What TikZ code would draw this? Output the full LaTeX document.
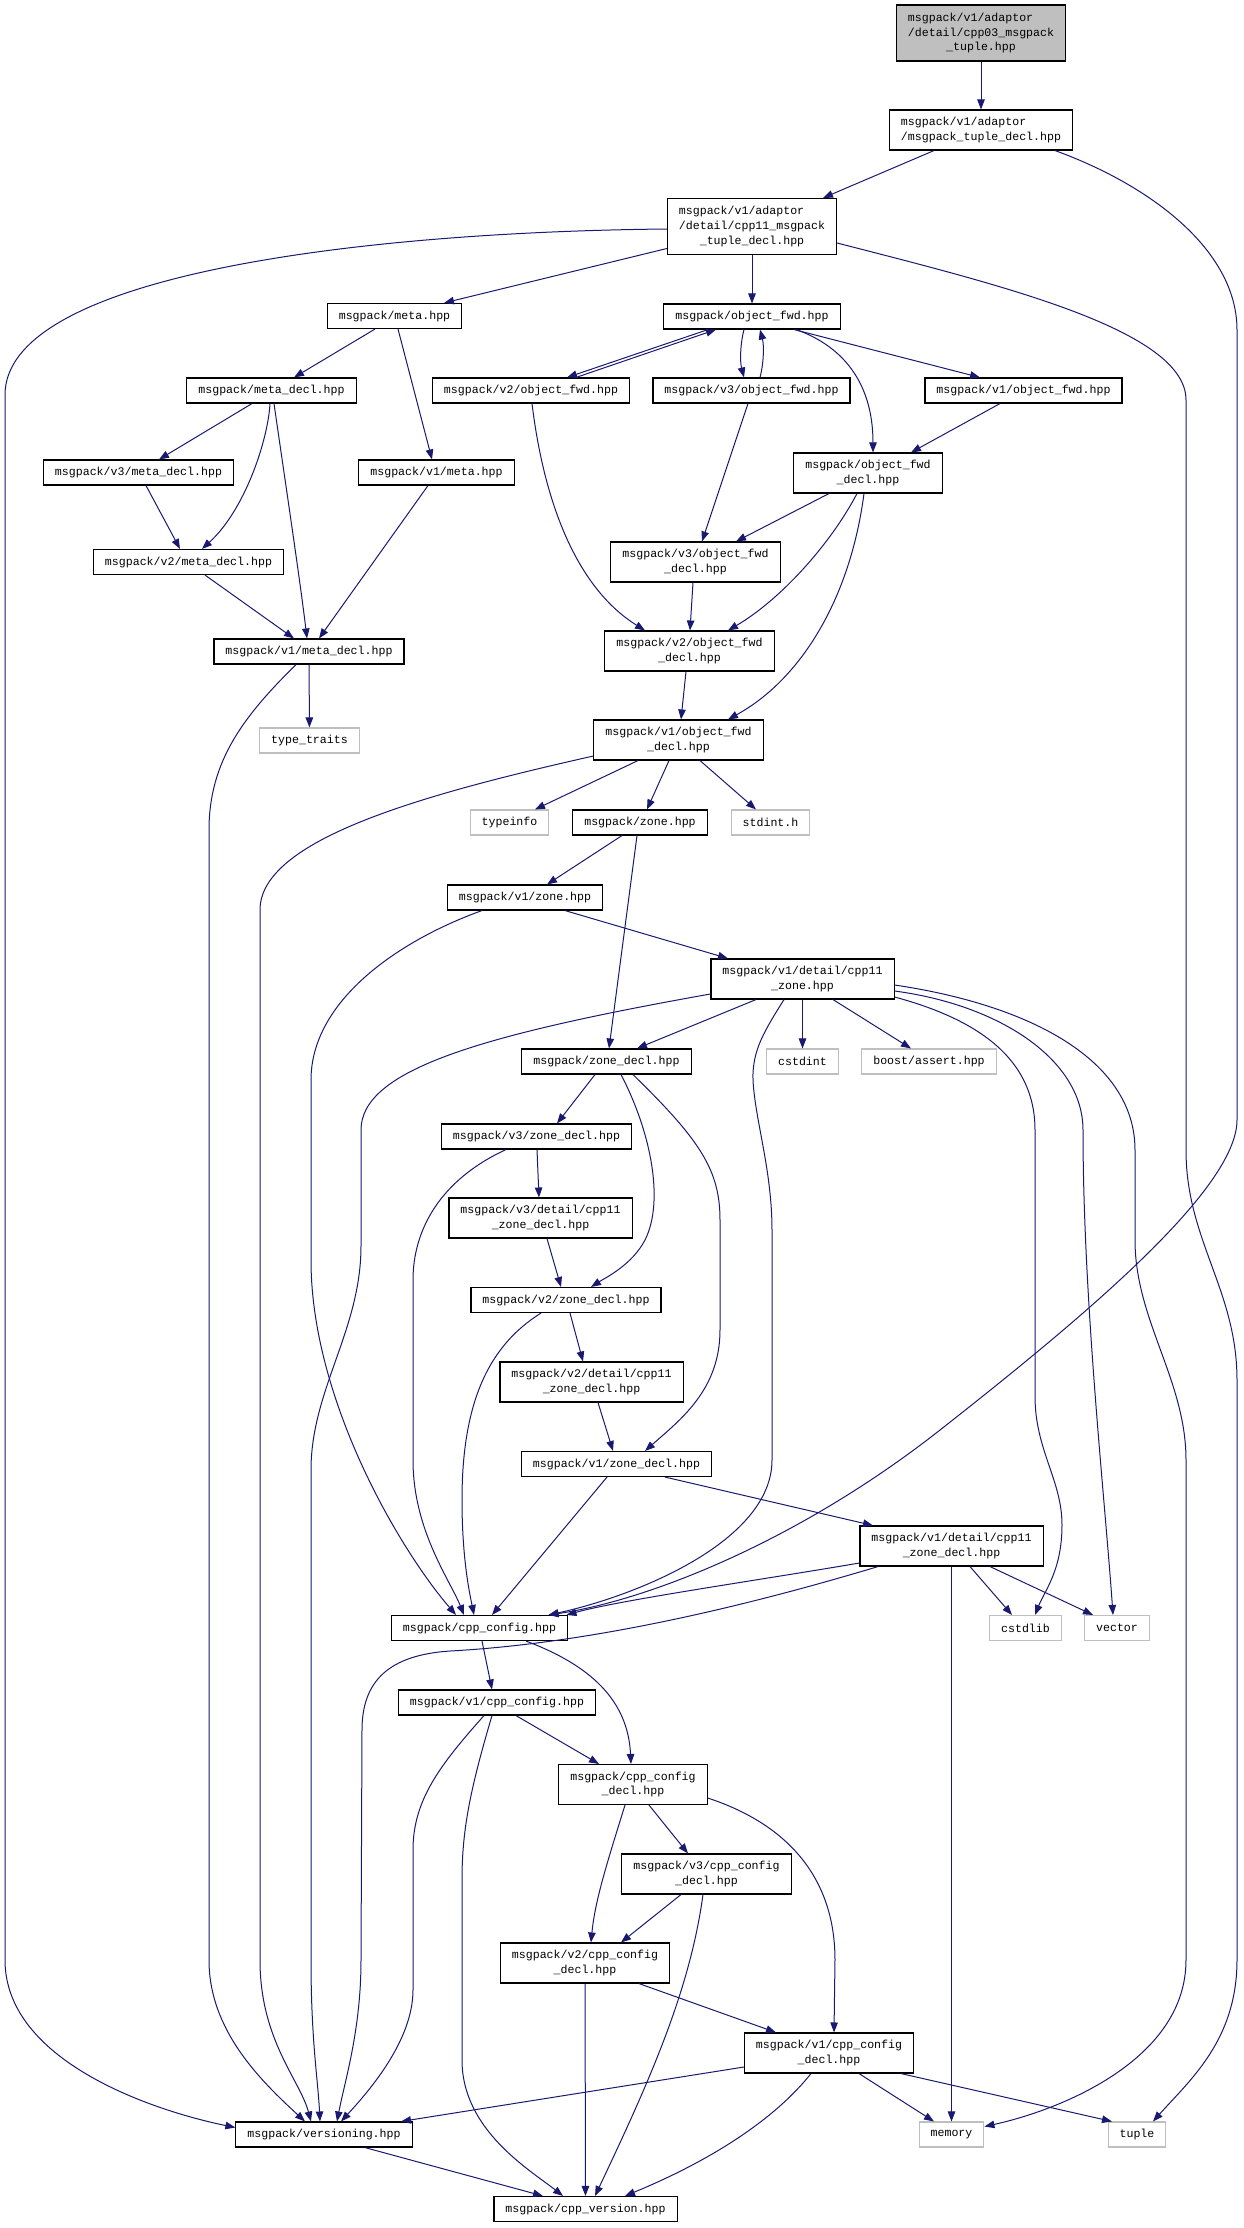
\documentclass[tikz,border=0pt]{standalone}
\usepackage{fontspec}
\setmonofont{Liberation Mono}
\usetikzlibrary{arrows.meta}
\definecolor{edgec}{HTML}{191970}
\definecolor{sysc}{HTML}{BFBFBF}
\definecolor{topfill}{HTML}{BFBFBF}
\begin{document}
\begin{tikzpicture}[x=1pt,y=-1pt,
  box/.style={draw=black,line width=1.1pt,fill=white,inner xsep=11.5pt,inner ysep=0pt,
    font=\ttfamily\fontsize{11.6}{14.6}\selectfont,align=center},
  one/.style={box,minimum height=25pt},
  two/.style={box,minimum height=40pt},
  three/.style={box,minimum height=56pt},
  sys/.style={one,draw=sysc},
  e/.style={draw=edgec,line width=1pt,-{Triangle[length=10pt,width=7.5pt]}},
]
\useasboundingbox (0,0) rectangle (1243,2228);
% nodes
\node[three,fill=topfill] (top) at (981,33) {msgpack/v1/adaptor\hphantom{xxx}\\/detail/cpp03\_msgpack\\\_tuple.hpp};
\node[two] (tupledecl) at (981,130) {msgpack/v1/adaptor\hphantom{xxxxx}\\/msgpack\_tuple\_decl.hpp};
\node[three] (c11tuple) at (752,226.5) {msgpack/v1/adaptor\hphantom{xxx}\\/detail/cpp11\_msgpack\\\_tuple\_decl.hpp};
\node[one] (meta) at (394.5,316) {msgpack/meta.hpp};
\node[one] (objfwd) at (752,316.5) {msgpack/object\_fwd.hpp};
\node[one] (metadecl) at (271.5,390.5) {msgpack/meta\_decl.hpp};
\node[one] (v2objfwd) at (531,390.5) {msgpack/v2/object\_fwd.hpp};
\node[one] (v3objfwd) at (751.5,390.5) {msgpack/v3/object\_fwd.hpp};
\node[one] (v1objfwd) at (1023.5,390.5) {msgpack/v1/object\_fwd.hpp};
\node[one] (v3metadecl) at (138.5,472.5) {msgpack/v3/meta\_decl.hpp};
\node[one] (v1meta) at (436.5,472.5) {msgpack/v1/meta.hpp};
\node[two] (objfwddecl) at (868,473) {msgpack/object\_fwd\\\_decl.hpp};
\node[two] (v3objfwddecl) at (695.5,562) {msgpack/v3/object\_fwd\\\_decl.hpp};
\node[one] (v2metadecl) at (188.5,562) {msgpack/v2/meta\_decl.hpp};
\node[two] (v2objfwddecl) at (689.5,651) {msgpack/v2/object\_fwd\\\_decl.hpp};
\node[one] (v1metadecl) at (309,651.5) {msgpack/v1/meta\_decl.hpp};
\node[sys] (typetraits) at (309.5,740.5) {type\_traits};
\node[two] (v1objfwddecl) at (678.5,740) {msgpack/v1/object\_fwd\\\_decl.hpp};
\node[sys] (typeinfo) at (509.5,822.5) {typeinfo};
\node[one] (zone) at (640,822.5) {msgpack/zone.hpp};
\node[sys] (stdinth) at (770.5,822.5) {stdint.h};
\node[one] (v1zone) at (525,897.5) {msgpack/v1/zone.hpp};
\node[two] (c11zone) at (802.5,979) {msgpack/v1/detail/cpp11\\\_zone.hpp};
\node[one] (zonedecl) at (606.5,1061.5) {msgpack/zone\_decl.hpp};
\node[sys] (cstdint) at (802.5,1061.5) {cstdint};
\node[sys] (boostassert) at (929,1061.5) {boost/assert.hpp};
\node[one] (v3zonedecl) at (536.5,1136.5) {msgpack/v3/zone\_decl.hpp};
\node[two] (v3c11zonedecl) at (540.5,1218) {msgpack/v3/detail/cpp11\\\_zone\_decl.hpp};
\node[one] (v2zonedecl) at (566,1300) {msgpack/v2/zone\_decl.hpp};
\node[two] (v2c11zonedecl) at (591.5,1382) {msgpack/v2/detail/cpp11\\\_zone\_decl.hpp};
\node[one] (v1zonedecl) at (616.5,1464) {msgpack/v1/zone\_decl.hpp};
\node[two] (v1c11zonedecl) at (951.5,1546) {msgpack/v1/detail/cpp11\\\_zone\_decl.hpp};
\node[one] (cppconfig) at (479.5,1628) {msgpack/cpp\_config.hpp};
\node[sys] (cstdlib) at (1025.5,1628) {cstdlib};
\node[sys] (vector) at (1117,1628) {vector};
\node[one] (v1cppconfig) at (497,1702.5) {msgpack/v1/cpp\_config.hpp};
\node[two] (cppconfigdecl) at (633,1784.5) {msgpack/cpp\_config\\\_decl.hpp};
\node[two] (v3cppconfigdecl) at (706.5,1874) {msgpack/v3/cpp\_config\\\_decl.hpp};
\node[two] (v2cppconfigdecl) at (585,1963) {msgpack/v2/cpp\_config\\\_decl.hpp};
\node[two] (v1cppconfigdecl) at (829,2053) {msgpack/v1/cpp\_config\\\_decl.hpp};
\node[one] (versioning) at (324,2134.5) {msgpack/versioning.hpp};
\node[sys] (memory) at (951.5,2134.5) {memory};
\node[sys] (tuple) at (1137,2134.5) {tuple};
\node[one] (cppversion) at (585.5,2209) {msgpack/cpp\_version.hpp};
% edges
\draw[e] (top) -- (tupledecl);
\draw[e] ([xshift=-47pt]tupledecl.south) -- ([xshift=71pt]c11tuple.north);
\draw[e] ([xshift=74pt]tupledecl.south) .. controls (1150,185) and (1237,250) .. (1237,330) -- (1237,1120) .. controls (1237,1190) and (1080,1320) .. (940,1430) .. controls (800,1540) and (650,1600) .. ([xshift=69pt]cppconfig.north);
\draw[e] ([yshift=-22pt]c11tuple.west) -- ([xshift=49.5pt]meta.north);
\draw[e] ([yshift=-2.5pt]c11tuple.west) .. controls (360,232) and (5,275) .. (5,395) -- (5,1960) .. controls (5,2060) and (150,2110) .. ([yshift=7pt]versioning.west);
\draw[e] (c11tuple) -- (objfwd);
\draw[e] ([yshift=-16.5pt]c11tuple.east) .. controls (1000,285) and (1186,330) .. (1186,400) -- (1186,1150) .. controls (1186,1240) and (1237,1290) .. (1237,1380) -- (1237,1960) .. controls (1237,2040) and (1190,2080) .. ([xshift=16pt]tuple.north);
\draw[e] ([xshift=-44pt]objfwd.south) -- ([xshift=36pt]v2objfwd.north);
\draw[e] ([xshift=45pt]v2objfwd.north) -- ([xshift=-36pt]objfwd.south);
\draw[e] ([xshift=-8pt]objfwd.south) .. controls (740,345) and (740,362) .. ([xshift=-7.5pt]v3objfwd.north);
\draw[e] ([xshift=8.5pt]v3objfwd.north) .. controls (764,362) and (764,345) .. ([xshift=8pt]objfwd.south);
\draw[e] ([xshift=42pt]objfwd.south) -- ([xshift=-43.5pt]v1objfwd.north);
\draw[e] ([xshift=44pt]objfwd.south) .. controls (840,345) and (873,380) .. ([xshift=5pt]objfwddecl.north);
\draw[e] ([xshift=-23.5pt]v1objfwd.south) -- ([xshift=43pt]objfwddecl.north);
\draw[e] ([xshift=-19.5pt]meta.south) -- ([xshift=22.5pt]metadecl.north);
\draw[e] ([xshift=3.5pt]meta.south) -- ([xshift=-4.5pt]v1meta.north);
\draw[e] ([xshift=-19.5pt]metadecl.south) -- ([xshift=20.5pt]v3metadecl.north);
\draw[e] ([xshift=-1.5pt]metadecl.south) .. controls (268,440) and (245,510) .. ([xshift=13.5pt]v2metadecl.north);
\draw[e] ([xshift=2.5pt]metadecl.south) .. controls (285,480) and (300,580) .. ([xshift=-2pt]v1metadecl.north);
\draw[e] ([xshift=7.5pt]v3metadecl.south) -- ([xshift=-8.5pt]v2metadecl.north);
\draw[e] ([xshift=16.5pt]v2metadecl.south) -- ([xshift=-15pt]v1metadecl.north);
\draw[e] ([xshift=-8.5pt]v1meta.south) -- ([xshift=10pt]v1metadecl.north);
\draw[e] (v1metadecl) -- (typetraits);
\draw[e] ([xshift=-13pt]v1metadecl.south) .. controls (245,715) and (209,760) .. (209,830) -- (209,1960) .. controls (209,2030) and (260,2080) .. ([xshift=-19pt]versioning.north);
\draw[e] ([xshift=1pt]v2objfwd.south) .. controls (545,510) and (580,590) .. ([xshift=-44.5pt]v2objfwddecl.north);
\draw[e] ([xshift=-3.5pt]v3objfwd.south) -- ([xshift=6.5pt]v3objfwddecl.north);
\draw[e] ([xshift=-39pt]objfwddecl.south) -- ([xshift=40.5pt]v3objfwddecl.north);
\draw[e] ([xshift=-11pt]objfwddecl.south) .. controls (830,545) and (780,600) .. ([xshift=38.5pt]v2objfwddecl.north);
\draw[e] ([xshift=-4pt]objfwddecl.south) .. controls (850,600) and (800,680) .. ([xshift=49.5pt]v1objfwddecl.north);
\draw[e] ([xshift=-2.5pt]v3objfwddecl.south) -- ([xshift=0.5pt]v2objfwddecl.north);
\draw[e] ([xshift=-3.5pt]v2objfwddecl.south) -- ([xshift=2.5pt]v1objfwddecl.north);
\draw[e] ([xshift=-40.5pt]v1objfwddecl.south) -- ([xshift=25.5pt]typeinfo.north);
\draw[e] ([xshift=-9.5pt]v1objfwddecl.south) -- ([xshift=7pt]zone.north);
\draw[e] ([xshift=21.5pt]v1objfwddecl.south) -- ([xshift=-14.5pt]stdinth.north);
\draw[e] ([yshift=-16pt]v1objfwddecl.west) .. controls (420,795) and (260,840) .. (260,910) -- (260,1960) .. controls (260,2040) and (300,2080) .. ([xshift=-13pt]versioning.north);
\draw[e] ([xshift=-18pt]zone.south) -- ([xshift=22pt]v1zone.north);
\draw[e] ([xshift=-3pt]zone.south) -- ([xshift=2.5pt]zonedecl.north);
\draw[e] ([xshift=40pt]v1zone.south) -- ([xshift=-74.5pt]c11zone.north);
\draw[e] ([xshift=-43pt]v1zone.south) .. controls (400,940) and (311,1000) .. (311,1080) -- (311,1260) .. controls (311,1400) and (400,1550) .. ([xshift=-23.5pt]cppconfig.north);
\draw[e] ([xshift=-46.5pt]c11zone.south) -- ([xshift=30.5pt]zonedecl.north);
\draw[e] ([yshift=-15pt]c11zone.west) .. controls (480,1035) and (361,1070) .. (361,1130) -- (361,1246) .. controls (361,1330) and (311,1390) .. (311,1470) -- (311,1960) .. controls (311,2040) and (318,2080) .. ([xshift=-4pt]versioning.north);
\draw[e] ([xshift=-18.5pt]c11zone.south) .. controls (765,1030) and (752,1050) .. (753,1080) .. controls (755,1120) and (772,1170) .. (772,1230) -- (772,1460) .. controls (772,1540) and (640,1595) .. ([xshift=69pt]cppconfig.north);
\draw[e] (c11zone) -- (cstdint);
\draw[e] ([xshift=30.5pt]c11zone.south) -- ([xshift=-18pt]boostassert.north);
\draw[e] ([yshift=-18pt]c11zone.east) .. controls (980,1020) and (1035,1060) .. (1035,1130) -- (1035,1396) .. controls (1035,1450) and (1062,1480) .. (1062,1525) .. controls (1062,1570) and (1045,1590) .. ([xshift=9.5pt]cstdlib.north);
\draw[e] ([yshift=-12pt]c11zone.east) .. controls (1000,1005) and (1083,1060) .. (1083,1130) .. controls (1083,1300) and (1105,1500) .. ([xshift=-4pt]vector.north);
\draw[e] ([yshift=-6pt]c11zone.east) .. controls (1030,1005) and (1135,1060) .. (1135,1150) -- (1135,1240) .. controls (1135,1320) and (1186,1380) .. (1186,1460) -- (1186,1960) .. controls (1186,2060) and (1060,2110) .. ([yshift=8pt]memory.east);
\draw[e] ([xshift=-11.5pt]zonedecl.south) -- ([xshift=20.5pt]v3zonedecl.north);
\draw[e] ([xshift=14.5pt]zonedecl.south) .. controls (650,1130) and (665,1200) .. (645,1240) .. controls (632,1265) and (605,1278) .. ([xshift=25pt]v2zonedecl.north);
\draw[e] ([xshift=26.5pt]zonedecl.south) .. controls (700,1140) and (720,1170) .. (720,1220) -- (720,1330) .. controls (720,1390) and (680,1420) .. ([xshift=28.5pt]v1zonedecl.north);
\draw[e] ([xshift=0.5pt]v3zonedecl.south) -- ([xshift=-1.5pt]v3c11zonedecl.north);
\draw[e] ([xshift=-30.5pt]v3zonedecl.south) .. controls (440,1180) and (413,1230) .. (413,1280) -- (413,1460) .. controls (413,1530) and (450,1580) .. ([xshift=-15.5pt]cppconfig.north);
\draw[e] ([xshift=6.5pt]v3c11zonedecl.south) -- ([xshift=-5pt]v2zonedecl.north);
\draw[e] ([xshift=4pt]v2zonedecl.south) -- ([xshift=-8.5pt]v2c11zonedecl.north);
\draw[e] ([xshift=-25pt]v2zonedecl.south) .. controls (490,1345) and (462,1400) .. (462,1500) .. controls (462,1560) and (470,1595) .. ([xshift=-5.5pt]cppconfig.north);
\draw[e] ([xshift=6.5pt]v2c11zonedecl.south) -- ([xshift=-3.5pt]v1zonedecl.north);
\draw[e] ([xshift=-9.5pt]v1zonedecl.south) -- ([xshift=12.5pt]cppconfig.north);
\draw[e] ([xshift=48.5pt]v1zonedecl.south) -- ([xshift=-78.5pt]v1c11zonedecl.north);
\draw[e] ([yshift=-17pt]v1c11zonedecl.west) .. controls (760,1580) and (620,1600) .. ([xshift=87pt]cppconfig.north);
\draw[e] ([xshift=-73.5pt]v1c11zonedecl.south) .. controls (700,1620) and (560,1645) .. (450,1651) .. controls (390,1655) and (362,1680) .. (362,1730) -- (361,1960) .. controls (361,2030) and (345,2080) .. ([xshift=13pt]versioning.north);
\draw[e] ([xshift=18.5pt]v1c11zonedecl.south) -- ([xshift=-13.5pt]cstdlib.north);
\draw[e] ([xshift=38.5pt]v1c11zonedecl.south) -- ([xshift=-24pt]vector.north);
\draw[e] (v1c11zonedecl) -- (memory);
\draw[e] ([xshift=2.5pt]cppconfig.south) -- ([xshift=-5pt]v1cppconfig.north);
\draw[e] ([xshift=46.5pt]cppconfig.south) .. controls (590,1665) and (628,1700) .. ([xshift=-2pt]cppconfigdecl.north);
\draw[e] ([xshift=19pt]v1cppconfig.south) -- ([xshift=-34pt]cppconfigdecl.north);
\draw[e] ([xshift=-13pt]v1cppconfig.south) .. controls (440,1765) and (413,1800) .. (413,1850) -- (413,1990) .. controls (413,2040) and (370,2090) .. ([xshift=17pt]versioning.north);
\draw[e] ([xshift=-5pt]v1cppconfig.south) .. controls (470,1790) and (462,1830) .. (462,1880) -- (462,2060) .. controls (462,2130) and (530,2170) .. ([xshift=-22.5pt]cppversion.north);
\draw[e] ([xshift=16pt]cppconfigdecl.south) -- ([xshift=-18.5pt]v3cppconfigdecl.north);
\draw[e] ([xshift=-8pt]cppconfigdecl.south) .. controls (608,1860) and (595,1900) .. ([xshift=6pt]v2cppconfigdecl.north);
\draw[e] ([yshift=-13.5pt]cppconfigdecl.east) .. controls (790,1825) and (835,1880) .. (835,1960) -- ([xshift=5pt]v1cppconfigdecl.north);
\draw[e] ([xshift=-25.5pt]v3cppconfigdecl.south) -- ([xshift=36pt]v2cppconfigdecl.north);
\draw[e] ([xshift=-3.5pt]v3cppconfigdecl.south) .. controls (690,1990) and (650,2080) .. ([xshift=9.5pt]cppversion.north);
\draw[e] (v2cppconfigdecl) -- (cppversion);
\draw[e] ([xshift=54pt]v2cppconfigdecl.south) -- ([xshift=-53pt]v1cppconfigdecl.north);
\draw[e] ([yshift=-14pt]v1cppconfigdecl.west) -- ([xshift=77pt]versioning.north);
\draw[e] ([xshift=-18pt]v1cppconfigdecl.south) .. controls (770,2125) and (700,2165) .. ([xshift=39.5pt]cppversion.north);
\draw[e] ([xshift=30pt]v1cppconfigdecl.south) -- ([xshift=-17.5pt]memory.north);
\draw[e] ([xshift=72pt]v1cppconfigdecl.south) -- ([xshift=-25pt]tuple.north);
\draw[e] ([xshift=41pt]versioning.south) -- ([xshift=-42.5pt]cppversion.north);
\end{tikzpicture}
\end{document}
